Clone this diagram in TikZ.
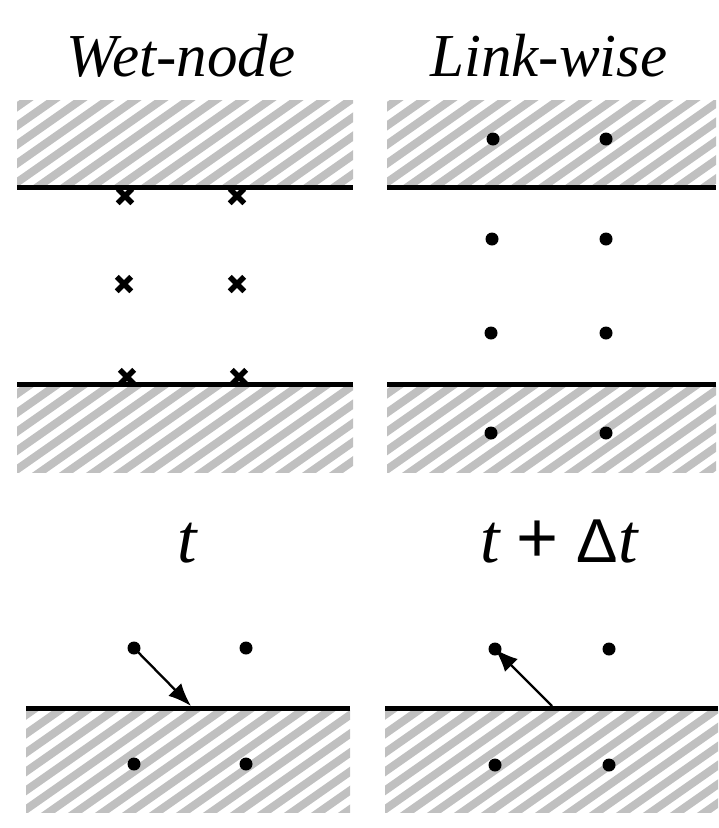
\documentclass[tikz,border=0pt]{standalone}
\usepackage{fontspec}
\setmainfont{Liberation Serif}
\newfontfamily\symfont{Liberation Sans}
\usetikzlibrary{shapes.misc,arrows.meta}
\definecolor{hatchgray}{HTML}{C0C0C0}
\tikzset{
  stripe/.style={hatchgray,line width=8pt},
  wall/.style={line width=5pt,line cap=butt},
  dotnode/.style={circle,fill=black,inner sep=0pt,minimum size=13pt},
  crossnode/.style={cross out,draw=black,line width=5.5pt,inner sep=0pt,minimum size=9pt},
  title/.style={font=\fontsize{61}{70}\selectfont\itshape,anchor=base,inner sep=0pt},
  timelabel/.style={font=\fontsize{70}{78}\selectfont,anchor=base,inner sep=0pt},
  flux/.style={line width=2.3pt,-{Latex[length=23pt,width=18pt]}}
}
\newcommand{\hatchbox}[4]{%
  \begin{scope}
    \clip (#1,#2) rectangle (#3,#4);
    \foreach \k in {0,...,26}
      \draw[stripe] ({#1-180+\k*27},{#4+10}) -- ++(190,-133);
  \end{scope}}
\newcommand{\plussym}{{\symfont\fontsize{72}{74}\selectfont +}}
\newcommand{\deltasym}{{\symfont\fontsize{62}{66}\selectfont Δ}}
\begin{document}
\begin{tikzpicture}[x=1pt,y=-1pt]
\useasboundingbox[fill=white] (0,0) rectangle (719,828);

% titles
\node[title] (tw) at (181,76) {Wet-node};
\node[title] (tl) at (549,76) {Link-wise};

% ---- top left panel
\hatchbox{17}{100}{353}{185}
\hatchbox{17}{386}{353}{472}
\draw[wall] (17,187) -- (353,187);
\draw[wall] (17,384) -- (353,384);
\node[crossnode] (a1) at (125,196) {};
\node[crossnode] (a2) at (237,196) {};
\node[crossnode] (a3) at (124,284) {};
\node[crossnode] (a4) at (237,284) {};
\node[crossnode] (a5) at (127,377) {};
\node[crossnode] (a6) at (239,377) {};

% ---- top right panel
\hatchbox{387}{100}{716}{185}
\hatchbox{387}{386}{716}{472}
\draw[wall] (387,187) -- (716,187);
\draw[wall] (387,384) -- (716,384);
\node[dotnode] (b1) at (493,139) {};
\node[dotnode] (b2) at (606,139) {};
\node[dotnode] (b3) at (492,239) {};
\node[dotnode] (b4) at (606,239) {};
\node[dotnode] (b5) at (491,333) {};
\node[dotnode] (b6) at (606,333) {};
\node[dotnode] (b7) at (491,433) {};
\node[dotnode] (b8) at (606,433) {};

% time labels
\node[timelabel] (t1) at (188,562) {\textit{t}};
\node[timelabel] (t2) at (560,562) {\textit{t}\hspace{15pt}\plussym\hspace{18pt}\deltasym\textit{t}};

% ---- bottom left panel
\hatchbox{26}{710}{350}{812}
\draw[wall] (26,708) -- (350,708);
\node[dotnode] (c1) at (134,648) {};
\node[dotnode] (c2) at (246,648) {};
\node[dotnode] (c3) at (134,764) {};
\node[dotnode] (c4) at (246,764) {};
\coordinate (cw) at (191,706);
\draw[flux] (c1.center) -- (cw);

% ---- bottom right panel
\hatchbox{385}{710}{718}{812}
\draw[wall] (385,708) -- (718,708);
\node[dotnode] (d1) at (495,649) {};
\node[dotnode] (d2) at (609,649) {};
\node[dotnode] (d3) at (495,765) {};
\node[dotnode] (d4) at (609,765) {};
\coordinate (dw) at (552,706);
\draw[flux] (dw) -- (d1.center);
\end{tikzpicture}
\end{document}
